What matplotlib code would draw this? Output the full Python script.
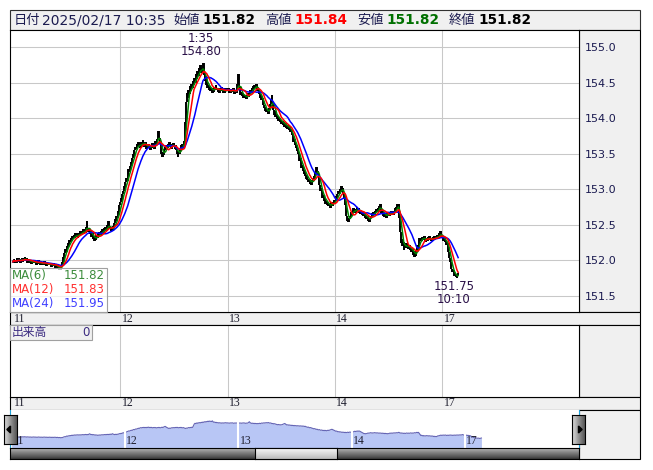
import numpy as np
import pandas as pd
import matplotlib
matplotlib.use('Agg')
import matplotlib.pyplot as plt
from matplotlib.patches import Rectangle, Polygon

W, H = 653, 470
JP = ['DejaVu Sans', 'Noto Sans CJK JP']

# 10-minute closes, each session starts 7:00 (JST)
day_labels = ['11', '12', '13', '14', '17']
bars_per_day = 144

close_11 = [151.98, 152.02, 151.97, 152.01, 151.96, 152.03, 151.99, 152.04, 151.98, 152.02, 151.97, 152.01,
            152.03, 151.98, 152.04, 152.00, 152.05, 151.99, 152.03, 151.97, 152.02, 151.98, 152.01, 151.96,
            152.00, 151.95, 151.99, 151.96, 152.01, 151.97, 151.99, 151.94, 151.98, 151.95, 152.00, 151.96,
            151.98, 151.94, 151.97, 151.93, 151.98, 151.95, 151.99, 151.94, 151.97, 151.92, 151.96, 151.93,
            151.97, 151.93, 151.96, 151.91, 151.95, 151.92, 151.96, 151.93, 151.95, 151.90, 151.94, 151.91,
            151.88, 151.92, 151.86, 151.90, 151.87, 151.93, 151.98, 152.05, 152.02, 152.10, 152.16, 152.12,
            152.20, 152.17, 152.25, 152.22, 152.29, 152.26, 152.32, 152.28, 152.35, 152.31, 152.36, 152.32,
            152.38, 152.33, 152.37, 152.32, 152.39, 152.35, 152.41, 152.36, 152.42, 152.37, 152.44, 152.39,
            152.43, 152.38, 152.47, 152.55, 152.46, 152.40, 152.44, 152.37, 152.41, 152.33, 152.38, 152.30,
            152.35, 152.28, 152.33, 152.29, 152.36, 152.31, 152.38, 152.34, 152.40, 152.36, 152.42, 152.38,
            152.44, 152.39, 152.45, 152.41, 152.47, 152.42, 152.50, 152.44, 152.56, 152.48, 152.45, 152.41,
            152.46, 152.42, 152.48, 152.45, 152.52, 152.58, 152.55, 152.63, 152.60, 152.70, 152.68, 152.78]
close_12 = [152.82, 152.88, 152.85, 152.94, 152.98, 153.05, 153.01, 153.10, 153.16, 153.12, 153.22, 153.28,
            153.24, 153.33, 153.38, 153.35, 153.44, 153.50, 153.46, 153.55, 153.60, 153.56, 153.63, 153.59,
            153.66, 153.60, 153.64, 153.58, 153.67, 153.62, 153.69, 153.63, 153.60, 153.66, 153.61, 153.57,
            153.63, 153.58, 153.64, 153.60, 153.55, 153.62, 153.58, 153.65, 153.61, 153.57, 153.63, 153.68,
            153.62, 153.70, 153.76, 153.82, 153.72, 153.64, 153.56, 153.50, 153.46, 153.53, 153.48, 153.56,
            153.60, 153.55, 153.62, 153.58, 153.64, 153.59, 153.66, 153.61, 153.57, 153.63, 153.59, 153.65,
            153.60, 153.56, 153.62, 153.55, 153.50, 153.46, 153.53, 153.49, 153.57, 153.62, 153.58, 153.64,
            153.60, 153.68, 153.64, 153.95, 154.22, 154.35, 154.28, 154.40, 154.34, 154.45, 154.38, 154.48,
            154.42, 154.52, 154.46, 154.57, 154.50, 154.62, 154.55, 154.66, 154.59, 154.70, 154.64, 154.74,
            154.66, 154.70, 154.64, 154.77, 154.60, 154.52, 154.56, 154.47, 154.51, 154.43, 154.47, 154.40,
            154.45, 154.38, 154.43, 154.36, 154.42, 154.37, 154.44, 154.39, 154.46, 154.40, 154.43, 154.37,
            154.41, 154.36, 154.42, 154.38, 154.44, 154.39, 154.35, 154.40, 154.36, 154.42, 154.38, 154.41]
close_13 = [154.38, 154.42, 154.36, 154.40, 154.35, 154.41, 154.37, 154.43, 154.38, 154.34, 154.39, 154.36,
            154.40, 154.48, 154.62, 154.45, 154.38, 154.33, 154.37, 154.31, 154.35, 154.29, 154.33, 154.28,
            154.32, 154.27, 154.31, 154.35, 154.30, 154.36, 154.40, 154.35, 154.42, 154.38, 154.45, 154.41,
            154.46, 154.42, 154.48, 154.43, 154.38, 154.41, 154.34, 154.29, 154.32, 154.25, 154.28, 154.22,
            154.18, 154.14, 154.10, 154.15, 154.08, 154.12, 154.06, 154.10, 154.14, 154.20, 154.27, 154.32,
            154.22, 154.12, 154.05, 154.10, 154.02, 154.06, 153.99, 154.03, 153.96, 154.00, 153.94, 153.98,
            153.92, 153.96, 153.90, 153.94, 153.88, 153.93, 153.86, 153.91, 153.85, 153.90, 153.83, 153.87,
            153.80, 153.84, 153.76, 153.72, 153.66, 153.70, 153.62, 153.58, 153.62, 153.54, 153.50, 153.46,
            153.40, 153.44, 153.36, 153.30, 153.34, 153.26, 153.22, 153.27, 153.19, 153.15, 153.20, 153.13,
            153.10, 153.15, 153.08, 153.13, 153.06, 153.11, 153.16, 153.12, 153.18, 153.23, 153.28, 153.32,
            153.26, 153.20, 153.12, 153.06, 152.98, 153.02, 152.93, 152.88, 152.92, 152.84, 152.88, 152.80,
            152.84, 152.78, 152.82, 152.76, 152.80, 152.74, 152.78, 152.82, 152.77, 152.81, 152.85, 152.80]
close_14 = [152.84, 152.90, 152.86, 152.94, 152.98, 152.93, 153.00, 152.96, 153.04, 152.98, 153.02, 152.94,
            152.86, 152.78, 152.70, 152.62, 152.56, 152.60, 152.54, 152.58, 152.63, 152.68, 152.64, 152.70,
            152.74, 152.68, 152.72, 152.66, 152.70, 152.75, 152.69, 152.73, 152.67, 152.71, 152.65, 152.69,
            152.64, 152.68, 152.62, 152.66, 152.60, 152.64, 152.58, 152.62, 152.56, 152.60, 152.54, 152.59,
            152.63, 152.67, 152.62, 152.68, 152.64, 152.70, 152.66, 152.72, 152.68, 152.74, 152.70, 152.76,
            152.80, 152.72, 152.66, 152.70, 152.63, 152.67, 152.61, 152.65, 152.60, 152.64, 152.68, 152.63,
            152.67, 152.62, 152.66, 152.70, 152.65, 152.69, 152.64, 152.70, 152.74, 152.69, 152.75, 152.80,
            152.74, 152.79, 152.60, 152.40, 152.25, 152.30, 152.20, 152.26, 152.15, 152.22, 152.17, 152.24,
            152.18, 152.23, 152.16, 152.21, 152.14, 152.19, 152.12, 152.17, 152.08, 152.13, 152.05, 152.10,
            152.06, 152.14, 152.22, 152.18, 152.26, 152.31, 152.27, 152.32, 152.28, 152.33, 152.29, 152.34,
            152.30, 152.26, 152.31, 152.27, 152.33, 152.29, 152.34, 152.30, 152.27, 152.32, 152.28, 152.33,
            152.29, 152.34, 152.30, 152.35, 152.31, 152.36, 152.32, 152.38, 152.34, 152.42, 152.36, 152.31]
close_17 = [152.33, 152.28, 152.31, 152.26, 152.29, 152.22, 152.25, 152.18, 152.12, 152.04, 151.98,
            151.92, 151.88, 151.84, 151.86, 151.80, 151.78, 151.81, 151.77, 151.75, 151.79, 151.82]

ma_periods = [6, 12, 24]
ma_colors = ['#008000', '#ff0000', '#0000ff']
ma_text_colors = ['#3c8c3c', '#ff3030', '#4040ff']
ma_last = ['151.82', '151.83', '151.95']

yticks = [151.5, 152.0, 152.5, 153.0, 153.5, 154.0, 154.5, 155.0]

hi_day, hi_time, hi_price = 1, '1:35', 154.80
lo_day, lo_time, lo_price = 4, '10:10', 151.75

header = [(14, '日付', 'normal', '#1c1c50', 9.5),
          (42, '2025/02/17 10:35', 'normal', '#1c1c50', 10),
          (173, '始値', 'normal', '#1c1c50', 9.5),
          (202, '151.82', 'bold', '#000000', 9.8),
          (265, '高値', 'normal', '#1c1c50', 9.5),
          (294, '151.84', 'bold', '#ff0000', 9.8),
          (357, '安値', 'normal', '#1c1c50', 9.5),
          (386, '151.82', 'bold', '#007000', 9.8),
          (449, '終値', 'normal', '#1c1c50', 9.5),
          (478, '151.82', 'bold', '#000000', 9.8)]


def time_to_bar(day, hhmm):
    h, m = map(int, hhmm.split(':'))
    mins = (h * 60 + m - 7 * 60) % (24 * 60)
    return day * bars_per_day + mins / 10


fig = plt.figure(figsize=(W / 100, H / 100), dpi=100)
fig.patch.set_facecolor('white')


def px_axes(x0, y0, x1, y1, **kw):
    return fig.add_axes([x0 / W, 1 - y1 / H, (x1 - x0) / W, (y1 - y0) / H], **kw)


def frect(x0, y0, x1, y1, **kw):
    r = Rectangle((x0 / W, 1 - y1 / H), (x1 - x0) / W, (y1 - y0) / H,
                  transform=fig.transFigure, **kw)
    fig.patches.append(r)
    return r


def ftext(x, y, s, **kw):
    return fig.text(x / W, 1 - y / H, s, **kw)


GRAY = '#f0f0f0'
close = np.array(close_11 + close_12 + close_13 + close_14 + close_17)
n = len(close)
x = np.arange(n)
opens = np.r_[close[0], close[:-1]]
day_starts = [i * bars_per_day for i in range(len(day_labels))]
xlim_main = (-3.75, 759.0)
xlim_nav = (-2.16, 721.0)

# background panels
frect(10, 10, 640, 30, fc=GRAY, ec='#303030', lw=0.8, zorder=-1)
frect(579, 30, 640, 312, fc=GRAY, ec='black', lw=0.8, zorder=-1)
frect(10, 312, 640, 325, fc=GRAY, ec='black', lw=0.8, zorder=-1)
frect(579, 325, 640, 397, fc=GRAY, ec='black', lw=0.8, zorder=-1)
frect(10, 397, 640, 410, fc=GRAY, ec='black', lw=0.8, zorder=-1)
frect(579, 410, 640, 459, fc=GRAY, ec='black', lw=0.8, zorder=-1)

for xp, s, wt, col, fs in header:
    ftext(xp, 20.5, s, family=JP, weight=wt, color=col, fontsize=fs, va='center', ha='left')

# main price chart
ax = px_axes(10, 30, 579, 312)
ax.set_xlim(*xlim_main)
ax.set_ylim(151.275, 155.239)
for yv in yticks:
    ax.axhline(yv, color='#c8c8c8', lw=0.75, zorder=0)
for d in day_starts[1:]:
    ax.axvline(d, color='#c8c8c8', lw=0.75, zorder=0)
ax.vlines(x, np.minimum(opens, close), np.maximum(opens, close), color='black', lw=1.4, zorder=2)
s = pd.Series(close)
for i in [0, 2, 1]:
    ma = s.rolling(ma_periods[i], min_periods=1).mean()
    ax.plot(x, ma, color=ma_colors[i], lw=1.1, zorder=3)
ax.yaxis.tick_right()
ax.set_yticks(yticks)
ax.set_yticklabels([f'{v:.1f}' for v in yticks])
ax.tick_params(axis='y', length=0, pad=4, labelsize=8, labelcolor='#1a1a50')
ax.set_xticks([])
for sp in ax.spines.values():
    sp.set_color('black')
    sp.set_linewidth(0.8)

ax.annotate(f'{hi_time}\n{hi_price:.2f}', xy=(time_to_bar(hi_day, hi_time), hi_price),
            xytext=(-2, 2), textcoords='offset points', ha='center', va='bottom',
            fontsize=8.5, color='#2a1048', linespacing=1.0)
ax.annotate(f'{lo_price:.2f}\n{lo_time}', xy=(time_to_bar(lo_day, lo_time), lo_price),
            xytext=(-2, -1), textcoords='offset points', ha='center', va='top',
            fontsize=8.5, color='#2a1048', linespacing=1.0)

# MA legend box
frect(10, 268, 107, 312, fc=(1, 1, 1, 0.72), ec='#a0a0a0', lw=0.8, zorder=2)
for k in range(3):
    yy = 275.5 + k * 14
    ftext(12, yy, f'MA({ma_periods[k]})', color=ma_text_colors[k], fontsize=8.5, va='center')
    ftext(105, yy, ma_last[k], color=ma_text_colors[k], fontsize=8.5, va='center', ha='right')


def date_strip(y0, y1):
    sa = px_axes(10, y0, 579, y1)
    sa.set_xlim(*xlim_main)
    sa.set_ylim(0, 1)
    sa.axis('off')
    for d, lab in zip(day_starts, day_labels):
        sa.annotate(lab, xy=(d, 0.5), xytext=(1, 0), textcoords='offset points',
                    ha='left', va='center', fontsize=8.5, family='Liberation Serif',
                    color='#202030')


date_strip(312, 325)

# volume pane
vax = px_axes(10, 325, 579, 397)
vax.set_xlim(*xlim_main)
vax.set_ylim(0, 1)
for d in day_starts[1:]:
    vax.axvline(d, color='#c8c8c8', lw=0.75)
vax.set_xticks([])
vax.set_yticks([])
for sp in vax.spines.values():
    sp.set_color('black')
    sp.set_linewidth(0.8)
frect(10, 325, 92, 340, fc=GRAY, ec='#a0a0a0', lw=0.8, zorder=2)
ftext(12, 332.5, '出来高', family=JP, color='#3a2a80', fontsize=8.5, va='center')
ftext(90, 332.5, '0', color='#3a2a80', fontsize=8.5, va='center', ha='right')

date_strip(397, 410)

# navigator
nax = px_axes(10, 410, 579, 448)
nax.set_xlim(*xlim_nav)
nav_lo, nav_hi = 150.11, 156.63
nax.set_ylim(nav_lo, nav_hi)
nax.fill_between(x, close, nav_lo, color='#b8c6f5', lw=0)
nax.plot(x, close, color='#6464b4', lw=0.8)
for d in day_starts[1:]:
    nax.axvline(d, color='white', lw=1.5)
for d, lab in zip(day_starts, day_labels):
    nax.annotate(lab, xy=(d, 0.0), xycoords=('data', 'axes fraction'), xytext=(1, 1),
                 textcoords='offset points', ha='left', va='bottom', fontsize=8.5,
                 family='Liberation Serif', color='#202030')
nax.set_xticks([])
nax.set_yticks([])
for k, sp in nax.spines.items():
    sp.set_visible(k in ('left', 'right'))
    sp.set_color('#20a0d8')
    sp.set_linewidth(0.8)

# scrollbar
grad = np.linspace(0, 1, 32).reshape(-1, 1)
sb = px_axes(10, 448, 579, 459)
sb.imshow(grad, aspect='auto', cmap='Greys', vmin=-0.9, vmax=1.4, extent=(0, 1, 0, 1))
sb.set_xticks([])
sb.set_yticks([])
for sp in sb.spines.values():
    sp.set_color('black')
    sp.set_linewidth(0.8)
th = px_axes(255, 448, 337, 459)
th.imshow(grad, aspect='auto', cmap='Greys', vmin=-0.3, vmax=3.0, extent=(0, 1, 0, 1))
th.set_xticks([])
th.set_yticks([])
for sp in th.spines.values():
    sp.set_color('black')
    sp.set_linewidth(0.8)

# navigator buttons
hgrad = np.linspace(0, 1, 16).reshape(1, -1)
for bx0, direction in ((4, -1), (572, 1)):
    b = px_axes(bx0, 415, bx0 + 13, 444)
    b.imshow(hgrad, aspect='auto', cmap='Greys', vmin=-0.6, vmax=1.6, extent=(0, 1, 0, 1))
    if direction < 0:
        tri = [(0.22, 0.5), (0.5, 0.38), (0.5, 0.62)]
    else:
        tri = [(0.78, 0.5), (0.5, 0.38), (0.5, 0.62)]
    b.add_patch(Polygon(tri, closed=True, color='black', transform=b.transAxes))
    b.set_xlim(0, 1)
    b.set_ylim(0, 1)
    b.set_xticks([])
    b.set_yticks([])
    for sp in b.spines.values():
        sp.set_color('black')
        sp.set_linewidth(0.8)

fig.savefig('out.png', dpi=100)
